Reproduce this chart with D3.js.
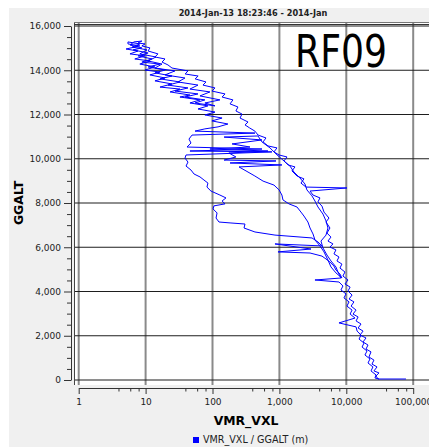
<!DOCTYPE html>
<html><head><meta charset="utf-8">
<script src="https://cdn.jsdelivr.net/npm/d3@7"></script>
<style>body{margin:0;background:#fff}svg{display:block}</style>
</head><body><svg id="c" width="429" height="448"></svg>
<script>
// ---- data ----
const vmr = [78000,29800,27800,30800,25900,28800,24200,25900,21800,23400,19700,21100,17800,19700,16000,17800,15000,16600,14000,15000,12600,14000,11800,13000,11000,12200,10600,11400,9550,10600,8900,9550,8040,8600,7250,7770,6540,7000,5700,6320,5320,5900,5140,5700,4970,5510,4640,4330,3770,4040,3180,2870,10200,2500,2100,2330,1830,1540,1710,1350,1170,1300,990,830,920,675,570,630,480,430,360,306,340,258,276,224,240,183,202,139,154,98,109,72,80,55,61,39,43,24.8,21.6,17.6,19.5,13.8,15.3,10.9,11.6,8.8,9.8,7.7,8.8,6.7,
5.84,8.8,6.5,10.9,7.7,12.5,8.8,16.4,10.9,19.5,13.8,24.8,16.4,32.6,21.6,43,27.5,60.7,38.8,77,54.8,109,77,129,65,91.6,46,60.7,30.5,38.8,19.5,27.5,13.8,17.6,10.9,14.3,8.2,10.5,6.3,8.2,5.45,
5.45,8.2,5.1,7.7,5.84,9.8,6.9,11.6,8.2,13.8,9.8,16.4,11.6,19.5,13.8,24.8,16.4,32.6,23.2,46,32.6,65,46,85.5,60.7,109,77,139,98,170,121,77,54.8,431,49.4,44.5,47.7,41.6,549,46,774,40.2,38.8,43,40.2,47.7,53,65,74.5,85.5,82.6,94.8,129,159,139,154,105,102,117,113,125,183,306,296,431,859,3070,3770,4330,859,2970,952,2870,4330,4970,5700,6540,7000,8040,8600,
7000,5900,5320,4640,4040,3400,3180,2870,2670,2330,2100,1830,1390,1130,1090,990,830,570,430,317,249,1090,183,889,149,224,176,675,91.6,363,196,549,149,478,
549,723,889,1130,1440,1650,2030,2410,2580,3070,3400,3770,4480,4970,5320,4970,4180,4480,5140,5900,7000,7500,8320,3400,7770,8910,8320,9900,9220,11000,10200,12200,11400,13500,7770,14000,14500,16600,15500,18400,17200,20400,19000,22600,21100,25000,23400,27800,26800,30800];
const galt = [45,45,180,320,410,590,720,900,1040,1270,1400,1580,1720,1900,2030,2210,2350,2530,2670,2850,2980,3160,3340,3530,3660,3840,4020,4200,4340,4520,4700,4880,5060,5240,5380,5560,5700,5880,6010,6150,6280,6460,6640,6870,7140,7320,7590,7860,8050,8230,8360,8540,8680,8720,8900,9090,9220,9450,9630,9720,9900,10080,10170,10310,10490,10580,10760,10940,11070,11250,11390,11530,11660,11840,12020,12160,12340,12480,12660,12790,12930,13060,13200,13330,13470,13610,13740,13830,13970,14100,14240,14370,14510,14600,14740,14870,15010,15100,15190,15230,15320,15280,
15140,15010,14920,14780,14650,14510,14370,14280,14150,14010,13880,13740,13610,13470,13330,13200,13060,12930,12790,12660,12520,12390,12520,12660,12840,13020,13150,13330,13470,13650,13790,13970,14100,14280,14420,14600,14740,14920,15050,15190,15280,
15190,15100,14960,14870,14740,14650,14510,14420,14280,14150,14010,13920,13790,13650,13520,13380,13240,13150,13020,12880,12790,12660,12520,12390,12250,12110,11980,11840,11710,11570,11440,11350,11250,11160,11070,10890,10710,10530,10440,10350,10310,10170,10030,9850,9670,9490,9310,9180,9040,8900,8720,8540,8360,8230,8090,7960,7870,7730,7550,7320,7140,7100,7050,6870,6690,6550,6420,6240,6060,6150,5920,5790,5740,5600,5470,5330,5150,4970,4790,4610,
4840,5110,5420,5790,6060,6330,6600,6870,7140,7410,7590,7820,7960,8140,8360,8590,8810,8990,9220,9450,9630,9720,9810,9900,9940,10080,10260,10350,10440,10530,10670,10850,10980,11030,
10760,10490,10220,9940,9670,9400,9130,8860,8590,8320,8090,7820,7500,7190,6870,6550,6280,5970,5650,5380,5110,4880,4610,4520,4430,4250,4070,3890,3710,3530,3340,3160,2980,2800,2580,2400,2210,2030,1850,1670,1490,1310,1130,950,770,590,410,230,90,45];
const xTicks = [1,10,100,1000,10000,100000];
const xMinorMult = [4,6,8];
const yTicks = [0,2000,4000,6000,8000,10000,12000,14000,16000];
const yMinorStep = 500;
const titleText = "2014-Jan-13 18:23:46 - 2014-Jan";
const flightLabel = "RF09";
const xTitle = "VMR_VXL";
const yTitle = "GGALT";
const legendLabel = "VMR_VXL / GGALT (m)";

// ---- drawing ----
const svg = d3.select("#c");
const font = "'DejaVu Sans', Verdana, sans-serif";
const x = d3.scaleLog().domain([1,100000]).range([78.7,413.2]);
const y = d3.scaleLinear().domain([0,16000]).range([380,26]);

svg.append("rect").attr("x",9).attr("y",8).attr("width",420).attr("height",439).attr("fill","#f0f0f0");

const plot = {x0:75, y0:23, x1:429, y1:385};
svg.append("rect").attr("x",plot.x0).attr("y",plot.y0).attr("width",plot.x1-plot.x0).attr("height",plot.y1-plot.y0).attr("fill","#fff");

// gridlines
svg.append("g").selectAll("line").data(xTicks).join("line")
  .attr("x1",d=>x(d)).attr("x2",d=>x(d)).attr("y1",plot.y0).attr("y2",plot.y1)
  .attr("stroke","#8a8a8a").attr("stroke-width",2);
svg.append("g").selectAll("line").data(yTicks).join("line")
  .attr("x1",plot.x0).attr("x2",plot.x1).attr("y1",d=>y(d)).attr("y2",d=>y(d))
  .attr("stroke","#1e1e1e").attr("stroke-width",1.2);

// frame
svg.append("line").attr("x1",74.5).attr("x2",74.5).attr("y1",22).attr("y2",385).attr("stroke","#444").attr("stroke-width",1);
svg.append("line").attr("x1",74).attr("x2",429).attr("y1",22.5).attr("y2",22.5).attr("stroke","#777").attr("stroke-width",1);
svg.append("line").attr("x1",74).attr("x2",429).attr("y1",24.5).attr("y2",24.5).attr("stroke","#333").attr("stroke-width",1);

// data line
svg.append("clipPath").attr("id","pc").append("rect")
  .attr("x",plot.x0).attr("y",plot.y0).attr("width",plot.x1-plot.x0).attr("height",plot.y1-plot.y0);
const pts = vmr.map((v,i)=>[v,galt[i]]);
svg.append("path").attr("clip-path","url(#pc)")
  .attr("d", d3.line().x(d=>x(d[0])).y(d=>y(d[1]))(pts))
  .attr("fill","none").attr("stroke","#0000ff").attr("stroke-width",1).attr("stroke-linejoin","round");

// RF09 label
svg.append("text").attr("x",295).attr("y",67).attr("font-family",font).attr("font-size",44)
  .attr("textLength",92).attr("lengthAdjust","spacingAndGlyphs").attr("fill","#000").text(flightLabel);

// y axis
const yAx = svg.append("g").attr("transform","translate(71,0)")
  .call(d3.axisLeft(y).tickValues(yTicks).tickFormat(d3.format(",")).tickSize(7).tickSizeOuter(0).tickPadding(3));
yAx.select(".domain").attr("stroke","#333");
yAx.selectAll(".tick line").attr("stroke","#333");
yAx.selectAll("text").attr("font-family",font).attr("font-size",9).attr("fill","#222");
const yMinor = d3.range(0,16001,yMinorStep).filter(v=>v%2000!==0);
svg.append("g").selectAll("line").data(yMinor).join("line")
  .attr("x1",67).attr("x2",71).attr("y1",d=>y(d)+0.5).attr("y2",d=>y(d)+0.5).attr("stroke","#333");

// x axis
const xAx = svg.append("g").attr("transform","translate(0,388)")
  .call(d3.axisBottom(x).tickValues(xTicks).tickFormat(d3.format(",")).tickSize(6).tickSizeOuter(0).tickPadding(5));
xAx.select(".domain").attr("stroke","#333");
xAx.selectAll(".tick line").attr("stroke","#333");
xAx.selectAll("text").attr("font-family",font).attr("font-size",9).attr("fill","#222");
const xMinor = [];
xTicks.slice(0,-1).forEach(t=>xMinorMult.forEach(m=>xMinor.push(t*m)));
svg.append("g").selectAll("line").data(xMinor).join("line")
  .attr("x1",d=>x(d)).attr("x2",d=>x(d)).attr("y1",388).attr("y2",391.5).attr("stroke","#333");

// titles
svg.append("text").attr("x",253).attr("y",16).attr("text-anchor","middle").attr("font-family",font)
  .attr("font-weight","bold").attr("font-size",8.2).attr("fill","#222").text(titleText);
svg.append("text").attr("x",246).attr("y",424.5).attr("text-anchor","middle").attr("font-family",font)
  .attr("font-weight","bold").attr("font-size",12.4).attr("fill","#000").text(xTitle);
svg.append("text").attr("transform","translate(23,203) rotate(-90)").attr("text-anchor","middle").attr("font-family",font)
  .attr("font-weight","bold").attr("font-size",12.4).attr("fill","#000").text(yTitle);

// legend
svg.append("rect").attr("x",193).attr("y",437).attr("width",6).attr("height",6).attr("fill","#0000ff");
svg.append("text").attr("x",203).attr("y",443).attr("font-family",font).attr("font-size",9.6).attr("fill","#222").text(legendLabel);
</script></body></html>
